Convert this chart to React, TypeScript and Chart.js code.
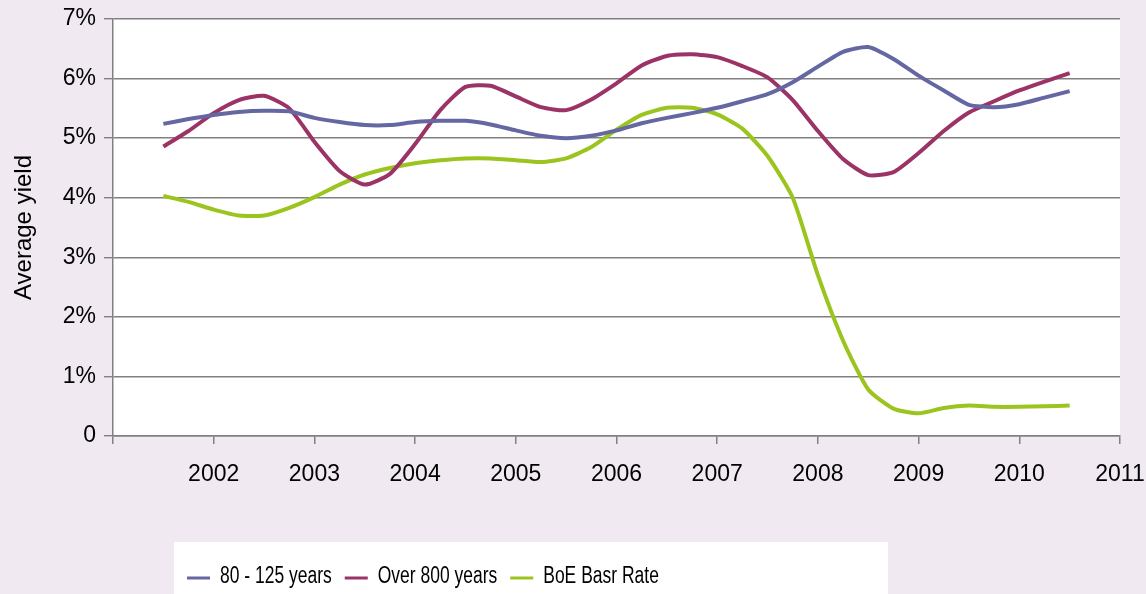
import React, { useEffect, useRef } from 'react';
import { Chart, registerables } from 'chart.js';

Chart.register(...registerables);

// Quarterly observation dates (decimal years)
const quarters = [
  2001.5, 2001.75, 2002.0, 2002.25, 2002.5, 2002.75, 2003.0, 2003.25, 2003.5, 2003.75,
  2004.0, 2004.25, 2004.5, 2004.75, 2005.0, 2005.25, 2005.5, 2005.75, 2006.0, 2006.25,
  2006.5, 2006.75, 2007.0, 2007.25, 2007.5, 2007.75, 2008.0, 2008.25, 2008.5, 2008.75,
  2009.0, 2009.25, 2009.5, 2009.75, 2010.0, 2010.25, 2010.5,
];

const years80to125 = [
  5.24, 5.32, 5.39, 5.44, 5.46, 5.45, 5.34, 5.27, 5.22, 5.22,
  5.27, 5.29, 5.29, 5.23, 5.13, 5.04, 5.0, 5.04, 5.13, 5.25,
  5.34, 5.42, 5.51, 5.62, 5.74, 5.94, 6.2, 6.45, 6.53, 6.33,
  6.05, 5.8, 5.56, 5.52, 5.57, 5.68, 5.79,
];

const over800 = [
  4.86, 5.12, 5.42, 5.64, 5.71, 5.5, 4.94, 4.45, 4.22, 4.4,
  4.9, 5.47, 5.86, 5.88, 5.7, 5.52, 5.47, 5.65, 5.92, 6.22,
  6.38, 6.41, 6.36, 6.21, 6.02, 5.64, 5.12, 4.65, 4.38, 4.43,
  4.75, 5.12, 5.43, 5.62, 5.8, 5.95, 6.09,
];

const boeRate = [
  4.03, 3.93, 3.8, 3.7, 3.7, 3.83, 4.01, 4.22, 4.39, 4.5,
  4.58, 4.63, 4.66, 4.66, 4.63, 4.6, 4.66, 4.85, 5.14, 5.39,
  5.51, 5.51, 5.4, 5.16, 4.7, 4.0, 2.7, 1.6, 0.78, 0.46,
  0.38, 0.47, 0.51, 0.49, 0.49, 0.5, 0.51,
];

const seriesNames = ['80 - 125 years', 'Over 800 years', 'BoE Basr Rate'];
const xTickYears = [2001, 2002, 2003, 2004, 2005, 2006, 2007, 2008, 2009, 2010, 2011];
const yTickValues = [0, 1, 2, 3, 4, 5, 6, 7];

const BG = '#f0e9f2';
const GRID = '#808080';
const FONT = "'Liberation Sans', Arial, sans-serif";
const COLORS = ['#6567a3', '#9b3366', '#9cc41e'];

export default function App() {
  const ref = useRef<HTMLCanvasElement>(null);

  useEffect(() => {
    if (!ref.current) return;
    const toPts = (vals: number[]) => quarters.map((q, i) => ({ x: q, y: vals[i] }));

    const bgPlugin = {
      id: 'bgPlugin',
      beforeDraw(chart: any) {
        const { ctx, chartArea: a } = chart;
        ctx.save();
        ctx.fillStyle = BG;
        ctx.fillRect(0, 0, chart.width, chart.height);
        ctx.fillStyle = '#ffffff';
        ctx.fillRect(a.left, a.top, a.right - a.left, a.bottom - a.top);
        ctx.fillRect(174, 542, 714, 60);
        ctx.restore();
      },
    };

    // Legend drawn in a horizontally condensed face, as in the reference
    const legendPlugin = {
      id: 'condensedLegend',
      afterDraw(chart: any) {
        const { ctx } = chart;
        const sx = 0.76;
        let x = 187;
        const y = 577;
        ctx.save();
        ctx.font = `23px ${FONT}`;
        ctx.textBaseline = 'middle';
        ctx.textAlign = 'left';
        chart.data.datasets.forEach((ds: any) => {
          ctx.strokeStyle = ds.borderColor;
          ctx.lineWidth = 3;
          ctx.beginPath();
          ctx.moveTo(x, y + 1);
          ctx.lineTo(x + 23, y + 1);
          ctx.stroke();
          x += 23 + 10;
          const w = ctx.measureText(ds.label).width * sx;
          ctx.save();
          ctx.translate(x, y);
          ctx.scale(sx, 1);
          ctx.fillStyle = '#000';
          ctx.fillText(ds.label, 0, 0);
          ctx.restore();
          x += w + 13;
        });
        ctx.restore();
      },
    };

    const chart = new Chart(ref.current, {
      type: 'line',
      data: {
        datasets: [years80to125, over800, boeRate].map((vals, i) => ({
          label: seriesNames[i],
          data: toPts(vals),
          borderColor: COLORS[i],
          backgroundColor: COLORS[i],
          borderWidth: 4,
          pointRadius: 0,
          tension: 0.2,
          fill: false,
        })),
      },
      options: {
        responsive: false,
        animation: false,
        devicePixelRatio: 1,
        layout: { padding: { left: 0, right: 26, top: 19, bottom: 0 } },
        plugins: {
          tooltip: { enabled: false },
          legend: { display: false },
        },
        scales: {
          x: {
            type: 'linear',
            min: 2001,
            max: 2011,
            afterBuildTicks: (s: any) => {
              s.ticks = xTickYears.map((v) => ({ value: v }));
            },
            afterFit: (s: any) => {
              s.height = 594 - 436;
              s.paddingLeft = 0;
              s.paddingRight = 0;
            },
            ticks: {
              autoSkip: false,
              maxRotation: 0,
              color: '#000',
              padding: 17,
              font: { family: FONT, size: 23 },
              callback: (v: any) => (v === 2001 ? '' : String(v)),
            },
            grid: {
              display: true,
              drawOnChartArea: false,
              drawTicks: true,
              tickLength: 8,
              color: GRID,
              lineWidth: 1.5,
            },
            border: { display: true, color: GRID, width: 1.5 },
          },
          y: {
            type: 'linear',
            min: 0,
            max: 7,
            afterBuildTicks: (s: any) => {
              s.ticks = yTickValues.map((v) => ({ value: v }));
            },
            afterFit: (s: any) => {
              s.width = 113;
              s.paddingTop = 0;
              s.paddingBottom = 0;
            },
            ticks: {
              color: '#000',
              padding: 8,
              font: { family: FONT, size: 23 },
              callback: (v: any) => (v === 0 ? '0' : v + '%'),
            },
            grid: {
              color: GRID,
              lineWidth: 1.4,
              drawTicks: true,
              tickLength: 9,
            },
            border: { display: true, color: GRID, width: 1.5 },
            title: {
              display: true,
              text: 'Average yield',
              color: '#000',
              font: { family: FONT, size: 24 },
              padding: { top: 10, bottom: 0 },
            },
          },
        },
      },
      plugins: [bgPlugin, legendPlugin],
    });

    return () => chart.destroy();
  }, []);

  return (
    <div style={{ position: 'absolute', left: 0, top: 0, width: 1146, height: 594, background: BG }}>
      <canvas ref={ref} width={1146} height={594} style={{ display: 'block', width: 1146, height: 594 }} />
    </div>
  );
}
